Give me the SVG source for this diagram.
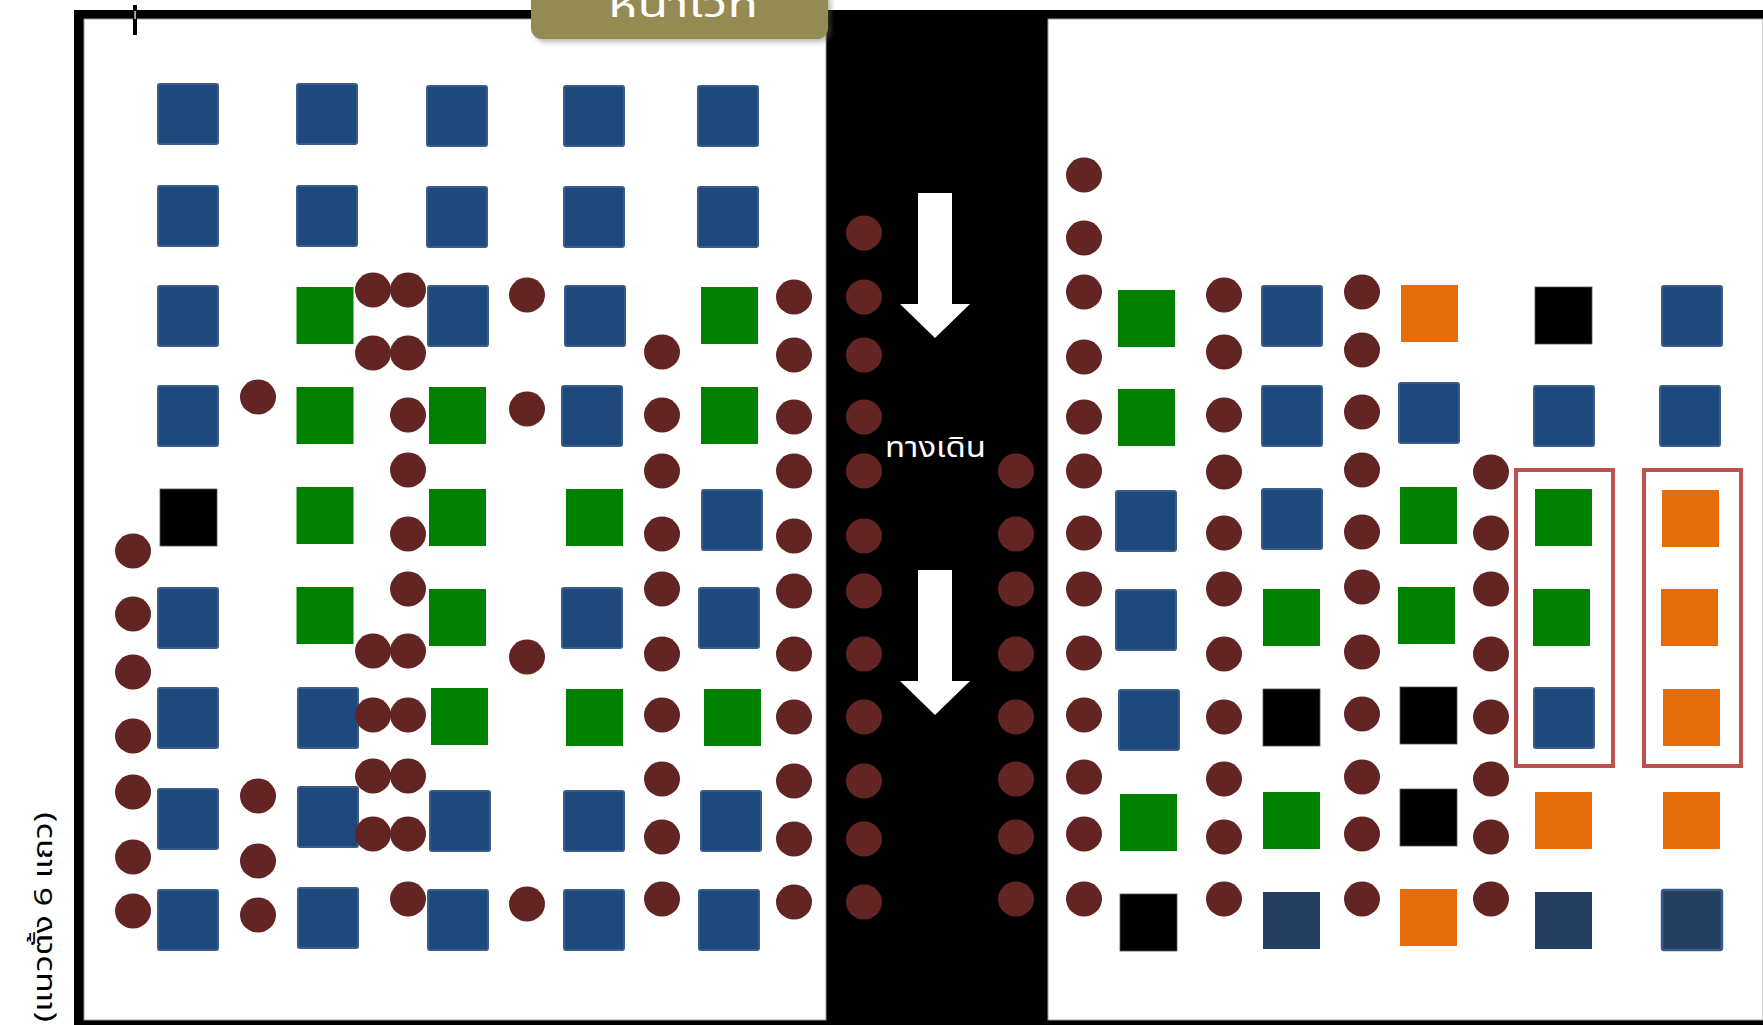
<svg xmlns="http://www.w3.org/2000/svg" xmlns:xlink="http://www.w3.org/1999/xlink" width="1763" height="1025" viewBox="0 0 1763 1025">
<style>
.b{fill:#1F497D;stroke:#385D8A;stroke-width:2}
.g{fill:#008000}
.k{fill:#000;stroke:#555;stroke-width:0.8}
.o{fill:#E46C0A}
.n{fill:#243F60}
.nb{fill:#243F60;stroke:#385D8A;stroke-width:2.5}
.c{fill:#632523}
.red{fill:none;stroke:#C0504D;stroke-width:4}
.thai{font-family:"Noto Sans Thai","Tahoma","Noto Sans","DejaVu Sans",sans-serif}
</style>
<defs>
<rect id="B" class="b" x="1" y="1" width="60" height="60" rx="2"/>
<rect id="G" class="g" width="57" height="57"/>
<rect id="K" class="k" width="57" height="57"/>
<rect id="O" class="o" width="57" height="57"/>
<rect id="N" class="n" width="57" height="57"/>
<ellipse id="C" class="c" rx="18" ry="17.5"/>
<filter id="sh" x="-10%" y="-30%" width="120%" height="180%"><feGaussianBlur stdDeviation="2.5"/></filter>
</defs>
<rect width="1763" height="1025" fill="#fff"/>
<g id="frame">
<rect x="74" y="10" width="1689" height="1015" fill="#000"/>
<rect x="84" y="19" width="742" height="1001" fill="#fff" stroke="#999" stroke-width="1"/>
<rect x="1048" y="19" width="715" height="1001" fill="#fff" stroke="#999" stroke-width="1"/>
<rect x="133" y="5" width="4" height="30" fill="#000"/>
<rect x="134.5" y="11" width="1.2" height="8" fill="#fff"/>
</g>
<g id="banner">
<rect x="534" y="-8" width="297" height="50" rx="11" fill="#666" opacity="0.45" filter="url(#sh)"/>
<rect x="531" y="-12" width="297" height="51" rx="11" fill="#948A54"/>
<text class="thai" x="683" y="17" font-size="36" fill="#fff" text-anchor="middle" textLength="150" lengthAdjust="spacingAndGlyphs">หน้าเวที</text>
</g>
<g id="vertical-label">
<text class="thai" transform="translate(52,917) rotate(-90)" font-size="26" fill="#000" text-anchor="middle" textLength="210" lengthAdjust="spacingAndGlyphs">(แนวตั้ง 6 แถว)</text>
</g>
<g id="walkway">
<polygon points="918,193 952,193 952,304 970,304 935,338 900,304 918,304" fill="#fff"/>
<polygon points="918,570 952,570 952,681 970,681 935,715 900,681 918,681" fill="#fff"/>
<text class="thai" x="935.5" y="457" font-size="29" fill="#fff" text-anchor="middle" textLength="101" lengthAdjust="spacingAndGlyphs">ทางเดิน</text>
</g>
<g id="left-seats">
<use href="#B" x="157" y="83"/><use href="#B" x="296" y="83"/><use href="#B" x="426" y="85"/><use href="#B" x="563" y="85"/><use href="#B" x="697" y="85"/>
<use href="#B" x="157" y="185"/><use href="#B" x="296" y="185"/><use href="#B" x="426" y="186"/><use href="#B" x="563" y="186"/><use href="#B" x="697" y="186"/>
<use href="#B" x="157" y="285"/><use href="#G" x="296.5" y="287"/><use href="#B" x="427" y="285"/><use href="#B" x="564" y="285"/><use href="#G" x="701" y="287"/>
<use href="#B" x="157" y="385"/><use href="#G" x="296.5" y="387"/><use href="#G" x="429" y="387"/><use href="#B" x="561" y="385"/><use href="#G" x="701" y="387"/>
<use href="#K" x="160" y="489"/><use href="#G" x="296.5" y="487"/><use href="#G" x="429" y="489"/><use href="#G" x="566" y="489"/><use href="#B" x="701" y="489"/>
<use href="#B" x="157" y="587"/><use href="#G" x="296.5" y="587"/><use href="#G" x="429" y="589"/><use href="#B" x="561" y="587"/><use href="#B" x="698" y="587"/>
<use href="#B" x="157" y="687"/><use href="#B" x="297" y="687"/><use href="#G" x="431" y="688"/><use href="#G" x="566" y="689"/><use href="#G" x="704" y="689"/>
<use href="#B" x="157" y="788"/><use href="#B" x="297" y="786"/><use href="#B" x="429" y="790"/><use href="#B" x="563" y="790"/><use href="#B" x="700" y="790"/>
<use href="#B" x="157" y="889"/><use href="#B" x="297" y="887"/><use href="#B" x="427" y="889"/><use href="#B" x="563" y="889"/><use href="#B" x="698" y="889"/>
</g>
<g id="right-seats">
<use href="#G" x="1118" y="290"/><use href="#B" x="1261" y="285"/><use href="#O" x="1401" y="285"/><use href="#K" x="1535" y="287"/><use href="#B" x="1661" y="285"/>
<use href="#G" x="1118" y="389"/><use href="#B" x="1261" y="385"/><use href="#B" x="1398" y="382"/><use href="#B" x="1533" y="385"/><use href="#B" x="1659" y="385"/>
<use href="#B" x="1115" y="490"/><use href="#B" x="1261" y="488"/><use href="#G" x="1400" y="487"/><use href="#G" x="1535" y="489"/><use href="#O" x="1662" y="490"/>
<use href="#B" x="1115" y="589"/><use href="#G" x="1263" y="589"/><use href="#G" x="1398" y="587"/><use href="#G" x="1533" y="589"/><use href="#O" x="1661" y="589"/>
<use href="#B" x="1118" y="689"/><use href="#K" x="1263" y="689"/><use href="#K" x="1400" y="687"/><use href="#B" x="1533" y="687"/><use href="#O" x="1663" y="689"/>
<use href="#G" x="1120" y="794"/><use href="#G" x="1263" y="792"/><use href="#K" x="1400" y="789"/><use href="#O" x="1535" y="792"/><use href="#O" x="1663" y="792"/>
<use href="#K" x="1120" y="894"/><use href="#N" x="1263" y="892"/><use href="#O" x="1400" y="889"/><use href="#N" x="1535" y="892"/><rect class="nb" x="1662" y="890" width="60" height="60" rx="2"/>
<rect class="red" x="1516" y="470" width="97" height="296"/>
<rect class="red" x="1644" y="470" width="97" height="296"/>
</g>
<g id="people">
<use href="#C" x="133" y="551"/><use href="#C" x="133" y="614"/><use href="#C" x="133" y="672"/><use href="#C" x="133" y="736"/><use href="#C" x="133" y="792"/><use href="#C" x="133" y="857"/><use href="#C" x="133" y="911"/>
<use href="#C" x="258" y="397"/><use href="#C" x="258" y="796"/><use href="#C" x="258" y="861"/><use href="#C" x="258" y="915"/>
<use href="#C" x="373" y="290"/><use href="#C" x="373" y="353"/><use href="#C" x="373" y="651"/><use href="#C" x="373" y="715"/><use href="#C" x="373" y="776"/><use href="#C" x="373" y="834"/>
<use href="#C" x="408" y="290"/><use href="#C" x="408" y="353"/><use href="#C" x="408" y="415"/><use href="#C" x="408" y="470"/><use href="#C" x="408" y="534"/><use href="#C" x="408" y="589"/><use href="#C" x="408" y="651"/><use href="#C" x="408" y="715"/><use href="#C" x="408" y="776"/><use href="#C" x="408" y="834"/><use href="#C" x="408" y="899"/>
<use href="#C" x="527" y="295"/><use href="#C" x="527" y="409"/><use href="#C" x="527" y="657"/><use href="#C" x="527" y="904"/>
<use href="#C" x="662" y="352"/><use href="#C" x="662" y="415"/><use href="#C" x="662" y="471"/><use href="#C" x="662" y="534"/><use href="#C" x="662" y="589"/><use href="#C" x="662" y="654"/><use href="#C" x="662" y="715"/><use href="#C" x="662" y="779"/><use href="#C" x="662" y="837"/><use href="#C" x="662" y="899"/>
<use href="#C" x="794" y="297"/><use href="#C" x="794" y="355"/><use href="#C" x="794" y="417"/><use href="#C" x="794" y="471"/><use href="#C" x="794" y="536"/><use href="#C" x="794" y="591"/><use href="#C" x="794" y="654"/><use href="#C" x="794" y="717"/><use href="#C" x="794" y="781"/><use href="#C" x="794" y="839"/><use href="#C" x="794" y="902"/>
<use href="#C" x="864" y="233"/><use href="#C" x="864" y="297"/><use href="#C" x="864" y="355"/><use href="#C" x="864" y="417"/><use href="#C" x="864" y="471"/><use href="#C" x="864" y="536"/><use href="#C" x="864" y="591"/><use href="#C" x="864" y="654"/><use href="#C" x="864" y="717"/><use href="#C" x="864" y="781"/><use href="#C" x="864" y="839"/><use href="#C" x="864" y="902"/>
<use href="#C" x="1016" y="471"/><use href="#C" x="1016" y="534"/><use href="#C" x="1016" y="589"/><use href="#C" x="1016" y="654"/><use href="#C" x="1016" y="717"/><use href="#C" x="1016" y="779"/><use href="#C" x="1016" y="837"/><use href="#C" x="1016" y="899"/>
<use href="#C" x="1084" y="175"/><use href="#C" x="1084" y="238"/><use href="#C" x="1084" y="292"/><use href="#C" x="1084" y="357"/><use href="#C" x="1084" y="417"/><use href="#C" x="1084" y="471"/><use href="#C" x="1084" y="533"/><use href="#C" x="1084" y="589"/><use href="#C" x="1084" y="653"/><use href="#C" x="1084" y="715"/><use href="#C" x="1084" y="777"/><use href="#C" x="1084" y="834"/><use href="#C" x="1084" y="899"/>
<use href="#C" x="1224" y="295"/><use href="#C" x="1224" y="352"/><use href="#C" x="1224" y="415"/><use href="#C" x="1224" y="472"/><use href="#C" x="1224" y="533"/><use href="#C" x="1224" y="589"/><use href="#C" x="1224" y="654"/><use href="#C" x="1224" y="717"/><use href="#C" x="1224" y="779"/><use href="#C" x="1224" y="837"/><use href="#C" x="1224" y="899"/>
<use href="#C" x="1362" y="292"/><use href="#C" x="1362" y="350"/><use href="#C" x="1362" y="412"/><use href="#C" x="1362" y="470"/><use href="#C" x="1362" y="532"/><use href="#C" x="1362" y="587"/><use href="#C" x="1362" y="652"/><use href="#C" x="1362" y="714"/><use href="#C" x="1362" y="777"/><use href="#C" x="1362" y="834"/><use href="#C" x="1362" y="899"/>
<use href="#C" x="1491" y="472"/><use href="#C" x="1491" y="533"/><use href="#C" x="1491" y="589"/><use href="#C" x="1491" y="654"/><use href="#C" x="1491" y="717"/><use href="#C" x="1491" y="779"/><use href="#C" x="1491" y="837"/><use href="#C" x="1491" y="899"/>
</g>
</svg>
